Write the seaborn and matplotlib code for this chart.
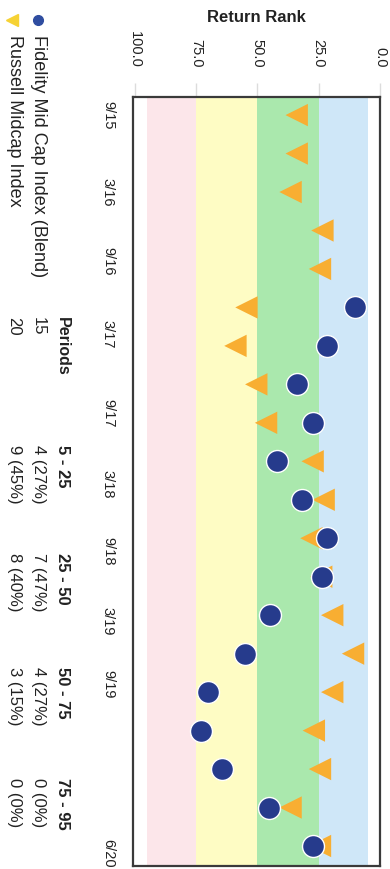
import numpy as np
import pandas as pd
import matplotlib
matplotlib.use("Agg")
import matplotlib.pyplot as plt
import seaborn as sns
from matplotlib.lines import Line2D

# data
quarters = ['9/15', '12/15', '3/16', '6/16', '9/16', '12/16', '3/17', '6/17', '9/17', '12/17',
            '3/18', '6/18', '9/18', '12/18', '3/19', '6/19', '9/19', '12/19', '3/20', '6/20']
fidelity = [None, None, None, None, None, 10, 21.5, 34, 27.5, 42,
            32, 21.5, 23.5, 45, 55, 70, 73, 64.5, 45.5, 27.5]
russell = [34, 34, 36.5, 23.5, 24.5, 54.5, 59, 50.5, 46.5, 27.5,
           23, 28, 24, 19.5, 11, 19.5, 27, 24.5, 36.5, 24.5]

series_names = ['Fidelity Mid Cap Index (Blend)', 'Russell Midcap Index']
periods = [15, 20]
band_labels = ['5 - 25', '25 - 50', '50 - 75', '75 - 95']
band_lo = [5, 25, 50, 75]
band_hi = [25, 50, 75, 95]
fid_counts = [4, 7, 4, 0]
rus_counts = [9, 8, 3, 0]

rank_ticks = [0, 25, 50, 75, 100]
date_labels = ['9/15', '3/16', '9/16', '3/17', '9/17', '3/18', '9/18', '3/19', '9/19', '6/20']
date_pos = [0, 2.0, 3.8, 5.7, 7.75, 9.6, 11.35, 13.15, 14.8, 19.2]

band_colors = ['#cfe7f8', '#aae8ad', '#fefcc4', '#fce6ea']

sns.set_style("white")
plt.rcParams['font.family'] = ['Liberation Sans', 'DejaVu Sans']

W, H = 390, 869
def fx(px):
    return px / W
def fy(py):
    return 1 - py / H

fig = plt.figure(figsize=(3.9, 8.69), dpi=100)
ax = fig.add_axes([fx(133), fy(866), fx(380) - fx(133), fy(97) - fy(866)])

for lo, hi, c in zip(band_lo, band_hi, band_colors):
    ax.axvspan(lo, hi, color=c, lw=0, zorder=0)

df = pd.DataFrame({'q': range(len(quarters)), 'quarter': quarters,
                   'Fidelity': pd.to_numeric(pd.Series(fidelity, dtype=float)),
                   'Russell': russell})

sns.scatterplot(data=df, x='Russell', y='q', marker='<', s=260, color='#f8ae32',
                edgecolor='none', ax=ax, zorder=3)
sns.scatterplot(data=df.dropna(), x='Fidelity', y='q', marker='o', s=250, color='#263b8c',
                edgecolor='white', linewidth=1, ax=ax, zorder=4)

ax.set_xlim(100.8, 0)
ax.set_ylim(19.52, -0.47)
ax.set_xlabel('')
ax.set_ylabel('')
ax.grid(False)

ax.xaxis.tick_top()
ax.set_xticks(rank_ticks)
ax.set_xticklabels([f'{v:.1f}' for v in rank_ticks])
ax.set_yticks(date_pos)
ax.set_yticklabels(date_labels, va='center')
ax.tick_params(axis='x', length=10, width=1, color='#dcdcdc', pad=11,
               labelcolor='#222222', labelsize=10.5, labelrotation=270)
ax.tick_params(axis='y', length=9, width=1, color='#dcdcdc', pad=4,
               labelcolor='#222222', labelsize=10.5, labelrotation=270)
for sp in ax.spines.values():
    sp.set_color('#3a3a3a')
    sp.set_linewidth(1.6)

fig.text(fx(256.5), fy(17), 'Return Rank', ha='center', va='center',
         fontsize=12, fontweight='bold', color='#222222')

# legend
fig.add_artist(Line2D([fx(38)], [fy(20)], marker='o', ms=7, color='#2f4da0',
                      ls='none', transform=fig.transFigure))
fig.add_artist(Line2D([fx(12)], [fy(20)], marker='<', ms=9, color='#f6d234',
                      ls='none', transform=fig.transFigure))
row_x = [38, 14]
for name, x in zip(series_names, row_x):
    fig.text(fx(x), fy(35), name, rotation=270, ha='center', va='top',
             fontsize=13, color='#222222')

# summary table
fig.text(fx(62), fy(317), 'Periods', rotation=270, ha='center', va='top',
         fontsize=11.5, fontweight='bold', color='#222222')
for p, x in zip(periods, row_x):
    fig.text(fx(x), fy(317), str(p), rotation=270, ha='center', va='top',
             fontsize=12, color='#222222')

col_y = [445, 553, 667, 778]
for lab, y, fc, rc in zip(band_labels, col_y, fid_counts, rus_counts):
    fig.text(fx(62), fy(y), lab, rotation=270, ha='center', va='top',
             fontsize=12, fontweight='bold', color='#222222')
    for cnt, p, x in zip([fc, rc], periods, row_x):
        fig.text(fx(x), fy(y), f'{cnt} ({round(100 * cnt / p)}%)', rotation=270,
                 ha='center', va='top', fontsize=12, color='#222222')

fig.savefig('out.png', dpi=100)
